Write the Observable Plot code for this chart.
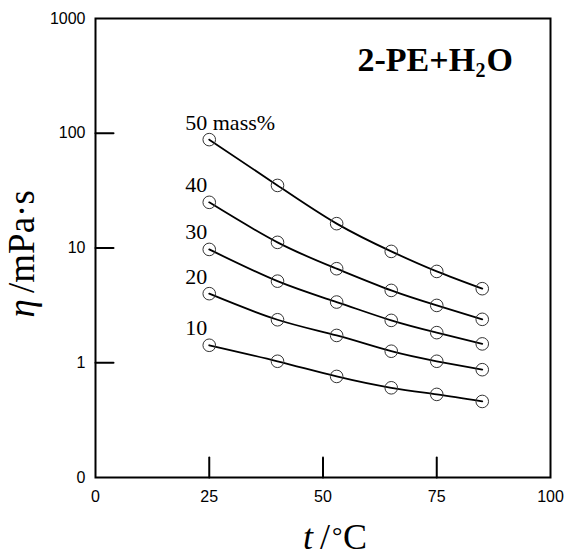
<!DOCTYPE html>
<html><head><meta charset="utf-8">
<script src="https://cdn.jsdelivr.net/npm/d3@7"></script>
<script src="https://cdn.jsdelivr.net/npm/@observablehq/plot@0.6"></script>
<style>body{margin:0;background:#fff}</style>
</head><body><div id="chart"></div>
<script>
// Data
const temperatures = [25, 40, 53, 65, 75, 85];
const seriesLabels = ["50 mass%", "40", "30", "20", "10"];
const visc50 = [88, 35.1, 16.3, 9.34, 6.25, 4.42];
const visc40 = [25.0, 11.2, 6.6, 4.27, 3.16, 2.39];
const visc30 = [9.72, 5.14, 3.38, 2.34, 1.83, 1.46];
const visc20 = [4.0, 2.37, 1.73, 1.26, 1.03, 0.87];
const visc10 = [1.42, 1.03, 0.76, 0.605, 0.53, 0.46];
const xTicks = [0, 25, 50, 75, 100];
const yTicks = [0.1, 1, 10, 100, 1000];
const yTickLabels = ["0", "1", "10", "100", "1000"];
const titleParts = ["2-PE+H", "2", "O"];
const xLabelParts = ["t", "/", "°", "C"];
const yLabelParts = ["η", "/mPa·s"];

const series = [visc50, visc40, visc30, visc20, visc10];
const rows = [];
series.forEach((vals, i) => vals.forEach((v, j) => rows.push({series: seriesLabels[i], t: temperatures[j], v})));
const labelRows = series.map((vals, i) => ({t: temperatures[0], v: vals[0], label: seriesLabels[i]}));

const serif = "'Liberation Serif','Times New Roman',serif";
const sans = "'Liberation Sans',Arial,sans-serif";
const one = (s) => [s];
const tickShape = {draw(context, l) { context.moveTo(0, 0); context.lineTo(0, -l); }};

const plot = Plot.plot({
  width: 566, height: 556,
  marginLeft: 95, marginRight: 16, marginTop: 18, marginBottom: 79,
  style: {background: "#fff", color: "#000"},
  x: {domain: [0, 100], label: null},
  y: {type: "log", domain: [0.1, 1000], label: null},
  marks: [
    Plot.axisX({ticks: xTicks, tickSize: 0, tickPadding: 13, fontSize: 16, fontFamily: sans, label: null}),
    Plot.axisY({ticks: yTicks, tickSize: 0, tickPadding: 10, fontSize: 16, fontFamily: sans,
      tickFormat: d => yTickLabels[yTicks.findIndex(t => Math.abs(t - d) < 1e-9)], label: null}),
    // inward ticks
    Plot.vector(xTicks.slice(1, -1), {x: d => d, frameAnchor: "bottom", length: 20, rotate: 0, anchor: "start", shape: tickShape, stroke: "#000", strokeWidth: 2}),
    Plot.vector(yTicks.slice(1, -1), {y: d => d, frameAnchor: "left", length: 18, rotate: 90, anchor: "start", shape: tickShape, stroke: "#000", strokeWidth: 2}),
    Plot.frame({strokeWidth: 2}),
    Plot.line(rows, {x: "t", y: "v", z: "series", curve: "natural", stroke: "#000", strokeWidth: 1.8}),
    Plot.dot(rows, {x: "t", y: "v", r: 6.3, stroke: "#333", strokeWidth: 1, fill: "none"}),
    Plot.text(labelRows, {x: "t", y: "v", text: "label", textAnchor: "start", lineAnchor: "bottom", dx: -24, dy: -10, fontSize: 22, fontFamily: serif}),
    // title
    Plot.text(one(titleParts[0]), {text: d => d, frameAnchor: "top-right", textAnchor: "start", lineAnchor: "bottom", dx: -193, dy: 52, fontSize: 34, fontWeight: "bold", fontFamily: serif}),
    Plot.text(one(titleParts[1]), {text: d => d, frameAnchor: "top-right", textAnchor: "start", lineAnchor: "bottom", dx: -75, dy: 58, fontSize: 20, fontWeight: "bold", fontFamily: serif}),
    Plot.text(one(titleParts[2]), {text: d => d, frameAnchor: "top-right", textAnchor: "start", lineAnchor: "bottom", dx: -64, dy: 52, fontSize: 34, fontWeight: "bold", fontFamily: serif}),
    // x label
    Plot.text(one(xLabelParts[0]), {text: d => d, frameAnchor: "bottom", textAnchor: "end", lineAnchor: "bottom", dx: -10, dy: 71, fontSize: 36, fontStyle: "italic", fontFamily: serif}),
    Plot.text(one(xLabelParts[1]), {text: d => d, frameAnchor: "bottom", textAnchor: "start", lineAnchor: "bottom", dx: -3, dy: 71, fontSize: 36, fontFamily: serif}),
    Plot.text(one(xLabelParts[2]), {text: d => d, frameAnchor: "bottom", textAnchor: "start", lineAnchor: "bottom", dx: 9, dy: 66, fontSize: 26, fontFamily: serif}),
    Plot.text(one(xLabelParts[3]), {text: d => d, frameAnchor: "bottom", textAnchor: "start", lineAnchor: "bottom", dx: 20, dy: 71, fontSize: 36, fontFamily: serif}),
    // y label
    Plot.text(one(yLabelParts[0]), {text: d => d, frameAnchor: "left", rotate: -90, textAnchor: "start", lineAnchor: "bottom", dx: -62, dy: 69.5, fontSize: 37, fontStyle: "italic", fontFamily: serif}),
    Plot.text(one(yLabelParts[1]), {text: d => d, frameAnchor: "left", rotate: -90, textAnchor: "start", lineAnchor: "bottom", dx: -62, dy: 45, fontSize: 37, fontFamily: serif})
  ]
});
document.getElementById("chart").appendChild(plot);
</script>
</body></html>
